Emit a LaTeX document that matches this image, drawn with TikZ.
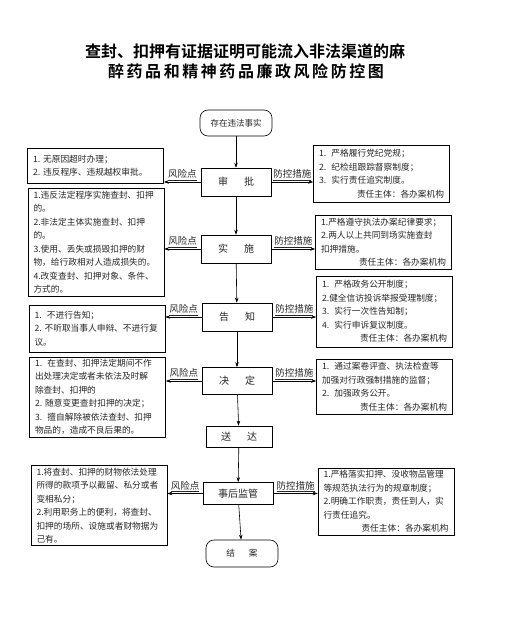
\documentclass[tikz,border=0pt]{standalone}
\usepackage{fontspec}
\setmainfont{Noto Sans CJK SC}[BoldFont={Noto Sans CJK SC Bold}]
\usetikzlibrary{arrows.meta}
\begin{document}
\begin{tikzpicture}[x=1pt,y=-1pt,line width=0.6pt,>={Stealth[length=5pt,width=3.5pt]},
  every node/.style={font=\fontsize{8.7}{13.5}\selectfont,text=black!85},
  risk/.style={draw,align=left,text width=125pt,inner xsep=5.5pt,inner ysep=2pt},
  ctrl/.style={draw,align=left,text width=125pt,inner xsep=5.5pt,inner ysep=2pt},
  stage/.style={draw,minimum width=70pt,minimum height=28pt,inner sep=1pt,font=\fontsize{10}{12}\selectfont},
  ends/.style={draw,rounded corners=8pt,minimum width=72pt,minimum height=27pt,inner sep=1pt},
  tag/.style={anchor=south,inner sep=1pt,font=\fontsize{9.5}{11}\selectfont}]
\useasboundingbox (0,0) rectangle (505,639);
% title
\node[font=\fontsize{16}{20}\selectfont\bfseries,text=black] (title1) at (245,51) {查封、扣押有证据证明可能流入非法渠道的麻};
\node[font=\fontsize{16}{20}\selectfont\bfseries\addfontfeature{LetterSpace=16},text=black] (title2) at (246,71) {醉药品和精神药品廉政风险防控图};
% main flow
\node[ends,font=\fontsize{8.5}{10}\selectfont,minimum height=26pt] (start) at (236,123) {存在违法事实};
\node[stage] (shen) at (236,182) {审\hspace{1.6em}批};
\node[stage] (shi) at (236,249) {实\hspace{1.6em}施};
\node[stage] (gao) at (237,317) {告\hspace{1.6em}知};
\node[stage,minimum height=27pt] (jue) at (237,381) {决\hspace{1.6em}定};
\node[stage,minimum height=21pt,minimum width=66pt] (song) at (239,436.5) {送\hspace{1.6em}达};
\node[stage,minimum height=22pt] (jian) at (238,493.5) {事后监管};
\node[ends] (jie) at (242,553.5) {结\hspace{1.6em}案};
% risk points
\node[risk,minimum height=35pt] (r1) at (95.5,165.5) {1.~无原因超时办理；\\2.~违反程序、违规越权审批。};
\node[risk,minimum height=108pt] (r2) at (96,242) {1.违反法定程序实施查封、扣押\\的。\\2.非法定主体实施查封、扣押\\的。\\3.使用、丢失或损毁扣押的财\\物，给行政相对人造成损失的。\\4.改变查封、扣押对象、条件、\\方式的。};
\node[risk,minimum height=47pt] (r3) at (97,328.5) {1.\hspace{0.6em}不进行告知；\\2.~不听取当事人申辩、不进行复\\议。};
\node[risk,minimum height=80pt] (r4) at (97.5,397) {1.\hspace{0.6em}在查封、扣押法定期间不作\\出处理决定或者未依法及时解\\除查封、扣押的\\2.~随意变更查封扣押的决定；\\3.\hspace{0.6em}擅自解除被依法查封、扣押\\物品的，造成不良后果的。};
\node[risk,minimum height=77pt] (r5) at (99,505.5) {1.将查封、扣押的财物依法处理\\所得的款项予以截留、私分或者\\变相私分；\\2.利用职务上的便利，将查封、\\扣押的场所、设施或者财物据为\\己有。};
% control measures
\node[ctrl,minimum height=57pt] (c1) at (381.5,173.5) {1.\hspace{0.6em}严格履行党纪党规；\\2.\hspace{0.6em}纪检组跟踪督察制度；\\3.\hspace{0.6em}实行责任追究制度。\\\mbox{}\hfill 责任主体：各办案机构};
\node[ctrl,minimum height=54pt] (c2) at (383.5,242) {1.严格遵守执法办案纪律要求；\\2.两人以上共同到场实施查封\\扣押措施。\\\mbox{}\hfill 责任主体：各办案机构};
\node[ctrl,minimum height=71pt] (c3) at (384.5,311.5) {1.\hspace{0.6em}严格政务公开制度；\\2.健全信访投诉举报受理制度；\\3.\hspace{0.6em}实行一次性告知制；\\4.\hspace{0.6em}实行申诉复议制度。\\\mbox{}\hfill 责任主体：各办案机构};
\node[ctrl,minimum height=55pt] (c4) at (384.5,386.5) {1.\hspace{0.6em}通过案卷评查、执法检查等\\加强对行政强制措施的监督；\\2.\hspace{0.6em}加强政务公开。\\\mbox{}\hfill 责任主体：各办案机构};
\node[ctrl,minimum height=67pt] (c5) at (386,501.5) {1.严格落实扣押、没收物品管理\\等规范执法行为的规章制度；\\2.明确工作职责，责任到人，实\\行责任追究。\\\mbox{}\hfill 责任主体：各办案机构};
% flow arrows
\draw[->] (start) -- (shen);
\draw[->] (shen) -- (shi);
\draw[->] (shi) -- (gao);
\draw[->] (gao) -- (jue);
\draw[->] (jue) -- (song);
\draw[->] (song) -- (jian);
\draw[->] (jian) -- (jie);
% side arrows
\foreach \s/\r/\c in {shen/r1/c1,shi/r2/c2,gao/r3/c3,jue/r4/c4,jian/r5/c5}{
  \draw[->] (\s.west) -- node[tag]{\underline{风险点}} (\r.east |- \s.west);
  \draw[->] (\s.east) -- node[tag]{\underline{防控措施}} (\c.west |- \s.east);
}
\end{tikzpicture}
\end{document}
